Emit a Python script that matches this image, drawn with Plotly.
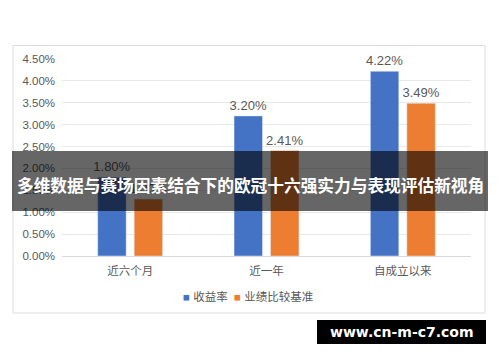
import plotly.graph_objects as go

categories = ["近六个月", "近一年", "自成立以来"]
returns = [1.80, 3.20, 4.22]
benchmark = [1.30, 2.41, 3.49]
series_names = ["收益率", "业绩比较基准"]
series_colors = ["#4472C4", "#ED7D31"]
y_tick_vals = [0, 0.5, 1.0, 1.5, 2.0, 2.5, 3.0, 3.5, 4.0, 4.5]
y_tick_text = ["0.00%", "0.50%", "1.00%", "1.50%", "2.00%", "2.50%", "3.00%", "3.50%", "4.00%", "4.50%"]
title_text = "多维数据与赛场因素结合下的欧冠十六强实力与表现评估新视角"
watermark = "www.cn-m-c7.com"

W, H = 500, 362
L, R, T, B = 62, 29, 59, 106
pw, ph = W - L - R, H - T - B


def px(x):
    return (x - L) / pw


def py(y):
    return (H - B - y) / ph


font_fam = "Liberation Sans, Arial, Noto Sans CJK SC, sans-serif"
gray = "#595959"

fig = go.Figure()
for name, vals, col in [(series_names[0], returns, series_colors[0]),
                        (series_names[1], benchmark, series_colors[1])]:
    fig.add_bar(x=categories, y=vals, name=name, marker_color=col,
                texttemplate="%{y:.2f}%", textposition="outside", constraintext="none",
                textfont=dict(size=13, color=gray), cliponaxis=False)

fig.update_layout(
    width=W, height=H,
    margin=dict(l=L, r=R, t=T, b=B),
    paper_bgcolor="white", plot_bgcolor="white",
    barmode="group", bargap=0.465, bargroupgap=0.22,
    font=dict(family=font_fam, color=gray, size=11),
    showlegend=False,
)
fig.update_yaxes(range=[0, 4.5], tickvals=y_tick_vals, ticktext=y_tick_text,
                 showgrid=True, gridcolor="#e8e8e8", gridwidth=1, zeroline=False,
                 showline=False, tickfont=dict(size=11.5, color=gray), ticklabelstandoff=6)
fig.update_xaxes(showline=True, linecolor="#d9d9d9", linewidth=1, showgrid=False,
                 tickfont=dict(size=11.5, color=gray), ticklabelstandoff=4)

shapes = [
    dict(type="rect", xref="paper", yref="paper", x0=px(13), x1=px(485), y0=py(313), y1=py(45.5),
         line=dict(color="#dcdcdc", width=1), fillcolor="rgba(0,0,0,0)", layer="below"),
    dict(type="rect", xref="paper", yref="paper", x0=px(12), x1=px(488), y0=py(211), y1=py(151),
         line=dict(width=0), fillcolor="rgba(0,0,0,0.6)", layer="above"),
    dict(type="rect", xref="paper", yref="paper", x0=px(317), x1=px(486), y0=py(344), y1=py(320),
         line=dict(width=0), fillcolor="black", layer="above"),
]
fig.update_layout(shapes=shapes)

legend_text = "  ".join(
    f"<span style='color:{c}'>■</span> {n}" for n, c in zip(series_names, series_colors))
fig.add_annotation(xref="paper", yref="paper", x=px(248), y=py(296), text=legend_text,
                   showarrow=False, font=dict(size=11.5, color=gray),
                   xanchor="center", yanchor="middle")

fig.add_annotation(xref="paper", yref="paper", x=px(250), y=py(185), text="<b>" + title_text + "</b>",
                   showarrow=False, font=dict(family="Noto Sans CJK SC", size=16.7, color="white"),
                   xanchor="center", yanchor="middle")
fig.add_annotation(xref="paper", yref="paper", x=px(402), y=py(332), text="<b>" + watermark + "</b>",
                   showarrow=False, font=dict(family="DejaVu Sans", size=14, color="white"),
                   xanchor="center", yanchor="middle")

fig.write_html("out.html")
